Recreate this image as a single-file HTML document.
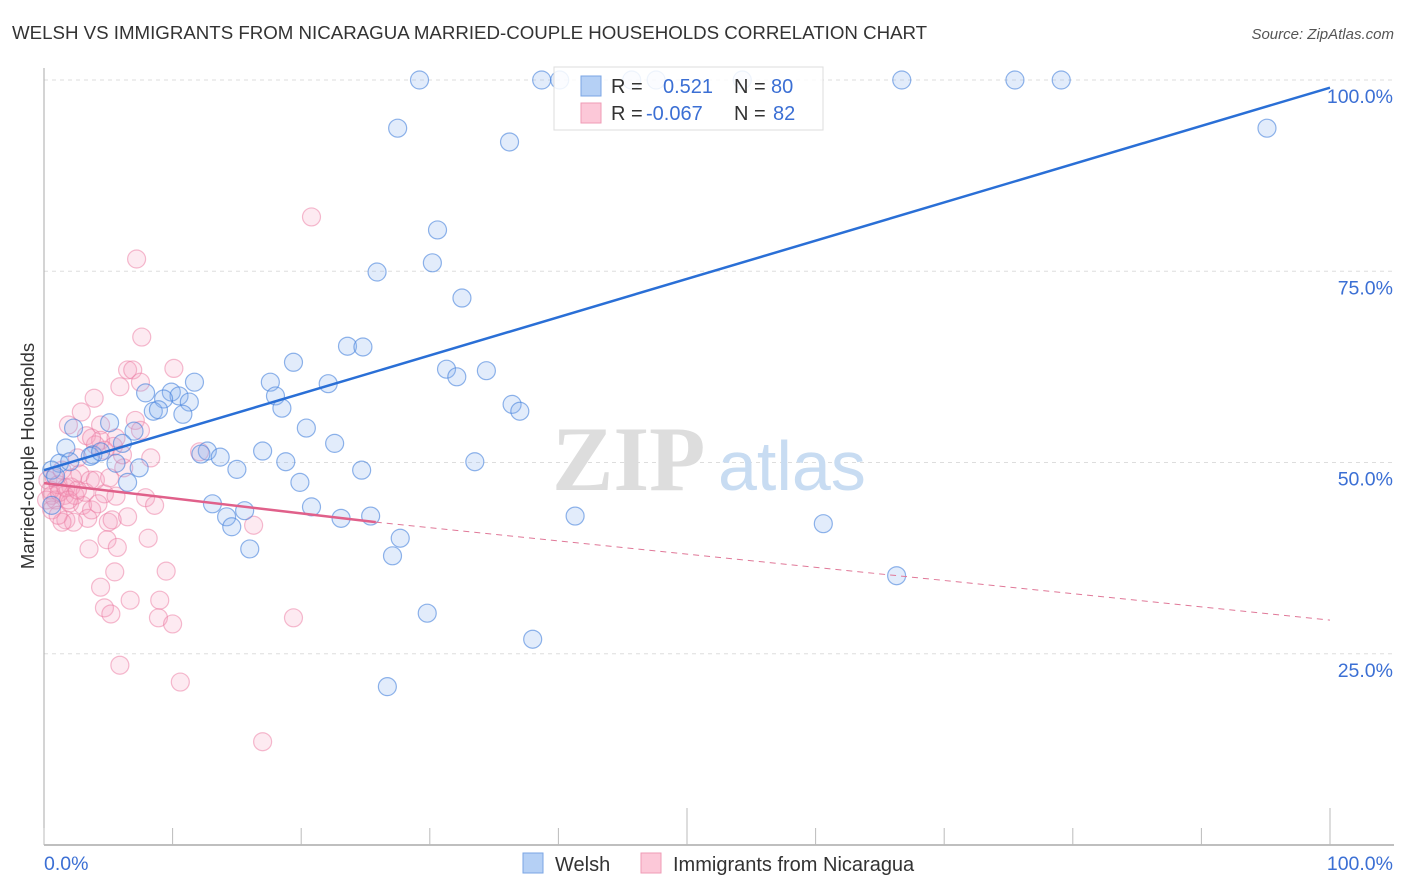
<!DOCTYPE html>
<html><head><meta charset="utf-8">
<style>
body{margin:0;background:#fff;font-family:"Liberation Sans",sans-serif;}
svg{display:block}
</style></head>
<body>
<svg id="chart" width="1406" height="892" xmlns="http://www.w3.org/2000/svg" font-family="Liberation Sans, sans-serif">
<text x="12" y="39" font-size="18.7" fill="#333">WELSH VS IMMIGRANTS FROM NICARAGUA MARRIED-COUPLE HOUSEHOLDS CORRELATION CHART</text>
<text x="1394" y="39" font-size="15" fill="#555" font-style="italic" text-anchor="end">Source: ZipAtlas.com</text>
<g id="grid"></g>
<g>
<text x="552" y="490" font-size="92" font-family="Liberation Serif, serif" fill="#ddd" font-weight="bold">ZIP</text>
<text x="718" y="490" font-size="70" fill="#c8dcf2">atlas</text>
</g>
<line x1="44" y1="68" x2="44" y2="845" stroke="#aaa" stroke-width="1"/>
<line x1="44" y1="845" x2="1394" y2="845" stroke="#aaa" stroke-width="1.5"/>
<g id="ticks"></g>
<g id="ylabels"></g>
<text transform="translate(34,456) rotate(-90)" font-size="18.5" fill="#333" text-anchor="middle">Married-couple Households</text>
<text x="44" y="870" font-size="19.5" fill="#3b6fd4">0.0%</text>
<text x="1393" y="870" font-size="19.5" fill="#3b6fd4" text-anchor="end">100.0%</text>
<g id="pinkPts"></g>
<g id="bluePts"></g>
<g id="lines"></g>
<g>
<rect x="554" y="67" width="269" height="63" fill="#fff" fill-opacity="0.85" stroke="#ddd"/>
<rect x="581" y="76" width="20" height="20" fill="#b5d0f5" stroke="#7aa5e4"/>
<rect x="581" y="103" width="20" height="20" fill="#fcc8d8" stroke="#ef9bb6"/>
<text x="611" y="93" font-size="20" fill="#333">R =</text>
<text x="663" y="93" font-size="20" fill="#3b6fd4">0.521</text>
<text x="734" y="93" font-size="20" fill="#333">N =</text>
<text x="771" y="93" font-size="20" fill="#3b6fd4">80</text>
<text x="611" y="120" font-size="20" fill="#333">R =</text>
<text x="646" y="120" font-size="20" fill="#3b6fd4">-0.067</text>
<text x="734" y="120" font-size="20" fill="#333">N =</text>
<text x="773" y="120" font-size="20" fill="#3b6fd4">82</text>
</g>
<g>
<rect x="523" y="853" width="20" height="20" fill="#b5d0f5" stroke="#7aa5e4"/>
<text x="555" y="871" font-size="20" fill="#333">Welsh</text>
<rect x="641" y="853" width="20" height="20" fill="#fcc8d8" stroke="#ef9bb6"/>
<text x="673" y="871" font-size="20" fill="#333">Immigrants from Nicaragua</text>
</g>
</svg>
<script>
const yTicks=[25,50,75,100];
const yTickLabels=["25.0%","50.0%","75.0%","100.0%"];
const xTicks=[0,10,20,30,40,50,60,70,80,90,100];
const welshX=[29.2,38.7,40.1,45.7,47.6,54.3,66.7,75.5,79.1,95.1,27.5,36.2,30.6,30.2,25.9,32.5,23.6,24.8,19.4,31.3,32.1,34.4,22.1,17.6,11.7,7.9,9.9,10.5,9.3,11.3,8.5,8.9,10.8,18.0,18.5,36.4,37.0,5.1,2.3,7.0,20.4,22.6,6.1,1.7,12.7,12.2,13.7,17.0,18.8,15.0,24.7,33.5,7.4,1.2,0.6,6.5,19.9,5.6,3.8,13.1,15.6,14.2,14.6,20.8,23.1,25.4,41.3,27.7,27.1,16.0,60.6,66.3,29.8,38.0,26.7,0.9,0.6,3.6,4.4,2.0];
const welshY=[100,100,100,100,100,100,100,100,100,93.7,93.7,91.9,80.4,76.1,74.9,71.5,65.2,65.1,63.1,62.2,61.2,62.0,60.3,60.5,60.5,59.1,59.2,58.7,58.3,57.9,56.7,56.9,56.3,58.7,57.1,57.6,56.7,55.2,54.5,54.1,54.5,52.5,52.5,51.9,51.5,51.1,50.7,51.5,50.1,49.1,49.0,50.1,49.3,49.9,49.0,47.4,47.4,49.9,51.0,44.6,43.7,42.9,41.6,44.2,42.7,43.0,43.0,40.1,37.8,38.7,42.0,35.2,30.3,26.9,20.7,48.2,44.4,50.8,51.4,50.1];
const nicX=[20.8,7.2,7.6,6.5,6.9,10.1,7.5,5.9,3.9,2.9,1.9,4.4,3.3,5.6,4.4,5.4,8.3,6.2,2.6,4.7,2.8,12.1,3.6,2.1,1.6,0.6,0.9,2.0,3.0,4.7,5.6,7.9,8.6,3.4,6.5,5.0,5.3,1.7,2.3,1.4,8.1,4.9,5.7,3.5,16.3,9.5,5.5,4.4,6.7,9.0,4.7,5.2,8.9,10.0,19.4,5.9,10.6,17.0,0.3,0.5,0.8,1.1,0.2,1.2,1.7,2.4,3.2,4.0,0.6,1.1,1.9,2.2,2.6,3.7,4.2,1.4,5.1,6.1,7.1,4.0,7.5,3.7];
const nicY=[82.1,76.6,66.4,62.1,62.1,62.3,60.5,59.9,58.4,56.6,54.9,54.9,53.5,53.2,52.9,52.1,50.6,49.3,50.6,51.6,48.5,51.4,47.7,46.8,45.7,45.7,45.1,44.7,44.4,45.9,45.6,45.4,44.4,42.7,42.9,42.2,42.5,42.5,42.2,42.2,40.1,39.9,38.9,38.7,41.8,35.8,35.7,33.7,32.0,32.0,31.0,30.2,29.7,28.9,29.7,23.5,21.3,13.5,47.7,46.4,48.0,47.1,45.1,46.1,46.7,45.7,46.1,47.7,43.8,43.1,45.1,48.0,46.4,43.8,44.6,49.0,48.0,51.0,55.5,52.3,54.2,53.2];
const welshTrend=[0,49.0,100,99.0];
const nicTrend=[0,47.3,25.8,42.2,100,29.4];

const NS="http://www.w3.org/2000/svg";
const X=v=>44+v*12.86;
const Y=v=>845-v*7.65;
function mk(t,a,p){const e=document.createElementNS(NS,t);for(const k in a)e.setAttribute(k,a[k]);p.appendChild(e);return e;}
const grid=document.getElementById('grid'),yl=document.getElementById('ylabels'),tk=document.getElementById('ticks');
yTicks.forEach((v,i)=>{
 const l=mk('line',{x1:44,x2:1394,y1:Y(v),y2:Y(v),stroke:'#ddd','stroke-dasharray':'4,4'},grid);
 
 
 const t=mk('text',{x:1393,y:Y(v)+23,'font-size':19.5,fill:'#3b6fd4','text-anchor':'end'},yl);
 t.textContent=yTickLabels[i];
 
 
});
xTicks.forEach(v=>{
 const long=(v===50||v===100);
 const l=mk('line',{x1:X(v),x2:X(v),y1:long?808:828,y2:845,stroke:'#bbb'},tk);
 
 
});
const pp=document.getElementById('pinkPts');
nicX.forEach((v,i)=>{
 const c=mk('circle',{cx:X(v),cy:Y(nicY[i]),r:9,fill:'rgba(248,160,190,0.22)',stroke:'rgba(235,120,160,0.5)','stroke-width':1.2},pp);
 
 
});
const bp=document.getElementById('bluePts');
welshX.forEach((v,i)=>{
 const c=mk('circle',{cx:X(v),cy:Y(welshY[i]),r:9,fill:'rgba(140,180,240,0.25)',stroke:'rgba(70,130,220,0.6)','stroke-width':1.2},bp);
 
 
});
const ln=document.getElementById('lines');
let a=mk('line',{x1:X(welshTrend[0]),y1:Y(welshTrend[1]),x2:X(welshTrend[2]),y2:Y(welshTrend[3]),stroke:'#2a6fd6','stroke-width':2.5},ln);


let b=mk('line',{x1:X(nicTrend[2]),y1:Y(nicTrend[3]),x2:X(nicTrend[4]),y2:Y(nicTrend[5]),stroke:'#e07898','stroke-width':1,'stroke-dasharray':'6,5'},ln);


let c=mk('line',{x1:X(nicTrend[0]),y1:Y(nicTrend[1]),x2:X(nicTrend[2]),y2:Y(nicTrend[3]),stroke:'#e0608a','stroke-width':2.5},ln);


</script>
</body></html>
